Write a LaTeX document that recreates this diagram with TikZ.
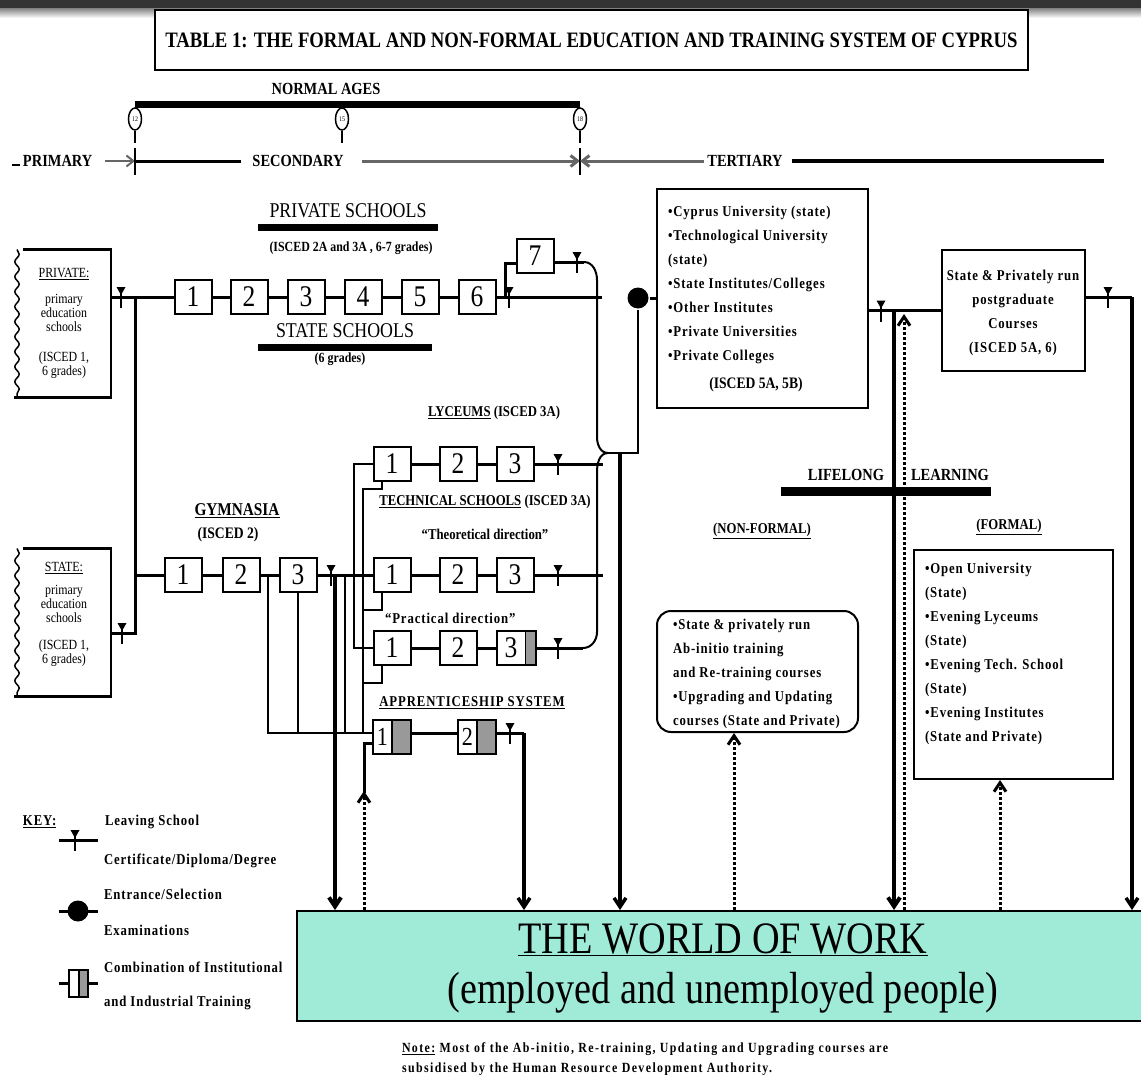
\documentclass[tikz,border=0pt]{standalone}
\usepackage{fontspec}
\setmainfont{Liberation Serif}[FakeStretch=0.85]
\newfontfamily\spaced{Liberation Serif}[FakeStretch=0.85,LetterSpace=6]
\newfontfamily\wide{Liberation Serif}[FakeStretch=0.85,LetterSpace=10]
\usetikzlibrary{arrows.meta,shapes.geometric,decorations.pathmorphing,calc}
\definecolor{workgreen}{RGB}{160,235,215}
% leaving certificate mark
\newcommand\cert[1]{%
  \fill #1 ++(-4.5,-10) -- ++(9,0) -- ++(-4.5,8) -- cycle;
  \draw[line width=1.6pt] #1 ++(0,-10) -- ++(0,21);}
\begin{document}
\begin{tikzpicture}[x=1pt,y=-1pt,line width=2pt,
  >={Straight Barb[length=9pt,width=12pt]},
  grade/.style={draw,fill=white,line width=2pt,minimum width=37pt,minimum height=34pt,inner sep=0pt,font=\fontsize{30}{30}\selectfont},
  mixed/.style={grade,path picture={
      \fill[black!40] ([xshift=-#1]path picture bounding box.north east) rectangle (path picture bounding box.south east);
      \draw[line width=1.5pt] ([xshift=-#1]path picture bounding box.north east) -- ([xshift=-#1]path picture bounding box.south east);}},
  lbl/.style={inner sep=0pt,font=\fontsize{15}{24}\selectfont\bfseries},
  sp/.style={inner sep=0pt,font=\spaced\fontsize{15}{24}\selectfont\bfseries},
  head/.style={inner sep=0pt,font=\fontsize{17}{17}\selectfont\bfseries},
  lst/.style={sp,align=left,anchor=west},
  row/.style={line width=3pt},
  work/.style={line width=3.5pt,->},
  back/.style={line width=3pt,dash pattern=on 3pt off 2pt,->},
  pbox/.style={inner sep=0pt,minimum width=92pt,minimum height=146pt},
  ptext/.style={inner sep=0pt,align=center,font=\fontsize{14}{14}\selectfont}]
\useasboundingbox (0,0) rectangle (1141,1081);
\fill[black!80] (0,0) rectangle (1141,9);
\shade[top color=black!45,bottom color=white] (0,9) rectangle (1141,18);

% title
\node[draw,fill=white,line width=1.6pt,minimum width=873pt,minimum height=60pt,font=\fontsize{22}{22}\selectfont\bfseries] (title) at (591.5,40) {TABLE 1: THE FORMAL AND NON-FORMAL EDUCATION AND TRAINING SYSTEM OF CYPRUS};

% world of work
\node[draw,fill=workgreen,line width=2pt,minimum width=850pt,minimum height=110pt,inner sep=0pt,anchor=north west] (wow) at (296,910) {};
\node[inner sep=0pt,font=\fontsize{45}{45}\selectfont] (wowt) at (723,940) {\underline{THE WORLD OF WORK}};
\node[inner sep=0pt,font=\fontsize{45}{45}\selectfont] (wowp) at (723,993) {(employed and unemployed people)};

% normal ages
\node[head] (ages) at (326,89) {NORMAL AGES};
\draw[line width=7pt] (135,104) -- (580,104);
\foreach \p/\x in {12/135,15/342,18/580} {
  \node[draw,ellipse,fill=white,line width=1.5pt,minimum width=13pt,minimum height=22pt,inner sep=0pt,font=\fontsize{7}{7}\selectfont] (age\p) at (\x,119) {\p};
  \draw (age\p.south) -- ++(0,12);
}

% stages
\coordinate (sec0) at (135,161);
\coordinate (ter0) at (580,161);
\draw (12,165) -- (20,165);
\node[head,anchor=west] (prim) at (22,161) {PRIMARY};
\node[head] (secl) at (298,161) {SECONDARY};
\node[head] (terl) at (745,161) {TERTIARY};
\draw[black!60,-{Straight Barb[length=7pt,width=11pt]}] ([xshift=12pt]prim.east) -- (sec0);
\draw (135,148) -- (135,175);
\draw[row] (sec0) -- ([xshift=-10pt]secl.west);
\draw[row,black!60,-{Straight Barb[length=7pt,width=11pt]}] ([xshift=17pt]secl.east) -- (ter0);
\draw (580,148) -- (580,175);
\draw[row,black!60,{Straight Barb[length=7pt,width=11pt]}-] (ter0) -- ([xshift=-2pt]terl.west);
\draw[line width=3.5pt] ([xshift=8pt]terl.east) -- (1104,161);

% private / state schools
\node[inner sep=0pt,font=\fontsize{21}{21}\selectfont] (pvs) at (348,211) {PRIVATE SCHOOLS};
\draw[line width=7pt] (258,227) -- (438,227);
\node[inner sep=0pt,font=\fontsize{14}{14}\selectfont\bfseries] (pvsi) at (351,248) {(ISCED 2A and 3A , 6-7 grades)};
\node[inner sep=0pt,font=\fontsize{21}{21}\selectfont] (sts) at (345,331) {STATE SCHOOLS};
\draw[line width=7pt] (258,347) -- (432,347);
\node[inner sep=0pt,font=\fontsize{14}{14}\selectfont\bfseries] (stsi) at (340,359) {(6 grades)};

% primary boxes
\node[pbox] (pvbox) at (64,323.5) {};
\node[pbox] (stbox) at (64,622.5) {};
\foreach \q in {pvbox,stbox} {
  \draw[line width=2.5pt] ([xshift=6pt]\q.north west) -- (\q.north east) -- (\q.south east) -- ([xshift=-3pt]\q.south west);
  \draw[line width=1.5pt,decorate,decoration={snake,amplitude=2.2pt,segment length=15pt}] (\q.north west) -- (\q.south west);
}
\node[ptext] (pvtext) at (64,323) {\underline{PRIVATE:}\\[12pt]primary\\education\\schools\\[16pt](ISCED 1,\\6 grades)};
\node[ptext] (sttext) at (64,614) {\underline{STATE:}\\[9pt]primary\\education\\schools\\[13pt](ISCED 1,\\6 grades)};

% private row
\foreach \n/\x in {1/193,2/249,3/306,4/363,5/420,6/477} \node[grade] (pv\n) at (\x,297) {\n};
\node[grade] (pv7) at (535,256) {7};
\coordinate (pvj) at (135,297);
\coordinate (stj) at (135,633);
\coordinate (gyj) at (135,575);
\coordinate (pvend) at (602,297);
\coordinate (pv7in) at (505,297);
\coordinate (jn) at (608,453);
\draw[row] (pvbox.east |- pvj) -- (pvj) -- (stj) -- (stbox.east |- stj);
\draw[row] (pvj) -- (pv1.west);
\foreach \p/\q in {1/2,2/3,3/4,4/5,5/6} \draw[row] (pv\p.east) -- (pv\q.west);
\draw[row] (pv6.east) -- (pvend);
\draw[row] (pv7in) |- ($(pv7.west)+(0,7)$);
\draw[row] ($(pv7.east)+(0,6)$) -- (584,262);
\draw (584,262) to[out=0,in=90] (597,280) -- (597,437) to[out=-90,in=180] (jn);

% tertiary
\node[circle,fill,inner sep=0pt,minimum size=21pt] (exam) at (638,298) {};
\node[draw,line width=2.5pt,minimum width=211pt,minimum height=219pt] (tert) at (762.5,298.5) {};
\node[lst] (tertl) at (667,285) {•Cyprus University (state)\\•Technological University\\(state)\\•State Institutes/Colleges\\•Other Institutes\\•Private Universities\\•Private Colleges};
\node[inner sep=0pt,font=\fontsize{16}{16}\selectfont\bfseries] (terti) at (756,385) {(ISCED 5A, 5B)};
\draw[row] (exam.east) -- (exam.east -| tert.west);
\draw (jn) -- (jn -| exam) -- (exam.south);
\coordinate (jnw) at (620,453);
\draw[work] (jnw) -- (jnw |- wow.north);

% postgraduate
\node[draw,line width=2.5pt,minimum width=143pt,minimum height=121pt] (pg) at (1013.5,310.5) {};
\node[sp,align=center] (pgl) at (1013,312.5) {State \& Privately run\\postgraduate\\Courses\\(ISCED 5A, 6)};
\coordinate (tpj) at (894,310.5);
\coordinate (tpb) at (904,314);
\coordinate (pgout) at (1132,297);
\draw[row] (tert.east |- pg.west) -- (pg.west);
\draw[row] (pg.east |- pgout) -- (pgout);
\draw[line width=4pt,->] (tpj) -- (tpj |- wow.north);
\draw[back] (tpb |- wow.north) -- (tpb);
\draw[work] (pgout) -- (pgout |- wow.north);

% lifelong learning
\node[head] (lifel) at (846,475) {LIFELONG};
\node[head] (learn) at (950,475) {LEARNING};
\draw[line width=9pt] (781,491) -- (991,491);
\node[lbl] (nfl) at (762,531) {\underline{(NON-FORMAL)}};
\node[lbl] (fl) at (1009,527) {\underline{(FORMAL)}};
\node[draw,rounded corners=14pt,line width=2pt,minimum width=201pt,minimum height=121pt] (nform) at (757.5,671.5) {};
\node[lst] (nftext) at (672,673.5) {•State \& privately run\\Ab-initio training\\and Re-training courses\\•Upgrading and Updating\\courses (State and Private)};
\node[draw,line width=2pt,minimum width=199pt,minimum height=229pt] (form) at (1013.5,664.5) {};
\node[lst] (ftext) at (924,653.5) {•Open University\\(State)\\•Evening Lyceums\\(State)\\•Evening Tech. School\\(State)\\•Evening Institutes\\(State and Private)};
\coordinate (nfb) at (734,0);
\coordinate (fb) at (1000,0);
\draw[back] (nfb |- wow.north) -- (nfb |- nform.south);
\draw[back] (fb |- wow.north) -- (fb |- form.south);

% gymnasia, lyceums, technical schools
\node[lbl,font=\fontsize{18}{18}\selectfont\bfseries] (gym) at (237,511) {\underline{GYMNASIA}};
\node[lbl,font=\fontsize{16}{16}\selectfont\bfseries] (gymi) at (228,535) {(ISCED 2)};
\foreach \n/\x in {1/183,2/241,3/298} \node[grade] (gy\n) at (\x,575) {\n};
\foreach \n/\x in {1/392,2/458,3/515} {
  \node[grade] (ly\n) at (\x,464) {\n};
  \node[grade] (th\n) at (\x,575) {\n};
}
\node[grade] (pc1) at (392,648) {1};
\node[grade] (pc2) at (458,648) {2};
\node[mixed=10pt,minimum width=39pt] (pc3) at (516,648) {\makebox[29pt]{3}\hspace*{10pt}};
\node[lbl] (lyc) at (494,413) {\underline{LYCEUMS} (ISCED 3A)};
\node[lbl] (tech) at (485,502) {\underline{TECHNICAL SCHOOLS} (ISCED 3A)};
\node[lbl] (theo) at (485,534) {“Theoretical direction”};
\node[sp,font=\spaced\fontsize{15}{15}\selectfont\bfseries,anchor=west] (prac) at (384,618) {“Practical direction”};
\coordinate (lyend) at (603,464);
\coordinate (thend) at (603,575);
\coordinate (pcend) at (583,648);
\draw[row] (gyj) -- (gy1.west);
\draw[row] (gy1.east) -- (gy2.west);
\draw[row] (gy2.east) -- (gy3.west);
\draw[row] (gy3.east) -- (th1.west);
\foreach \r in {ly,th,pc} {
  \draw[row] (\r1.east) -- (\r2.west);
  \draw[row] (\r2.east) -- (\r3.west);
}
\draw[row] (ly3.east) -- (lyend);
\draw[row] (th3.east) -- (thend);
\draw[row] (pc3.east) -- (pcend);
\draw (pcend) to[out=0,in=-90] (597,632) -- (597,472) to[out=90,in=180] (jn);
\coordinate (sp) at (354,0);
\draw[line width=2.5pt] (ly1.west) -| (sp |- pc1.west) -- (pc1.west);

% apprenticeship
\node[sp] (appr) at (472,703) {\underline{APPRENTICESHIP SYSTEM}};
\node[mixed=19pt,minimum width=38pt,font=\fontsize{26}{26}\selectfont] (ap1) at (392,737) {\makebox[19pt]{1}\hspace*{19pt}};
\node[mixed=19pt,minimum width=38pt,font=\fontsize{26}{26}\selectfont] (ap2) at (477,737) {\makebox[19pt]{2}\hspace*{19pt}};
\coordinate (bd) at (268,733);
\coordinate (dr) at (363,489);
\coordinate (gyo) at (335,575);
\coordinate (gyp) at (345,575);
\coordinate (apo) at (524,733);
\coordinate (apb) at (364,743);
\draw ($(ly1.south)+(-10,0)$) |- (dr) -- (dr |- bd);
\draw ($(th1.south)+(-10,0)$) |- (363,610);
\draw ($(pc1.south)+(-10,0)$) |- (363,683);
\draw (bd |- gyj) -- (bd) -- (ap1.west |- bd);
\draw (gy3.south) -- (gy3.south |- bd);
\draw (gyp) -- (gyp |- bd);
\draw[line width=4pt,->] (gyo) -- (gyo |- wow.north);
\draw[row] (ap1.east |- bd) -- (ap2.west |- bd);
\draw[row] (ap2.east |- bd) -- (apo);
\draw[work] (apo) -- (apo |- wow.north);
\draw[back] (apb |- wow.north) -- (364,791);
\draw[row] (364,793) -- (apb) -- (ap1.west |- apb);

% leaving marks
\cert{(121,297)} \cert{(509,297)} \cert{(577,262)} \cert{(122,633)}
\cert{(331,575)} \cert{(558,464)} \cert{(558,575)} \cert{(558,648)}
\cert{(510,733)} \cert{(881,310.5)} \cert{(1108,297)}

% key
\node[sp,anchor=west] (key) at (22,822) {\underline{KEY:}};
\draw[row] (59,840) -- (98,840);
\cert{(75,840)}
\node[sp,anchor=west] (k1t) at (104,822) {Leaving School};
\node[sp,anchor=west] (k1u) at (103,861) {Certificate/Diploma/Degree};
\draw[row] (59,911) -- (98,911);
\node[circle,fill,inner sep=0pt,minimum size=21pt] (kdot) at (78,911) {};
\node[sp,anchor=west] (k2t) at (103,894) {Entrance/Selection};
\node[sp,anchor=west] (k2u) at (103,930) {Examinations};
\draw[row] (59,983) -- (98,983);
\node[mixed=9pt,minimum width=19pt,minimum height=27pt] (kbox) at (78.5,983) {};
\node[sp,anchor=west] (k3t) at (103,967) {Combination of Institutional};
\node[sp,anchor=west] (k3u) at (103,1003) {and Industrial Training};

% note
\node[anchor=west,align=left,inner sep=0pt,font=\wide\fontsize{14}{20}\selectfont\bfseries] (note) at (401,1059) {\underline{Note:} Most of the Ab-initio, Re-training, Updating and Upgrading courses are\\subsidised by the Human Resource Development Authority.};
\end{tikzpicture}
\end{document}
